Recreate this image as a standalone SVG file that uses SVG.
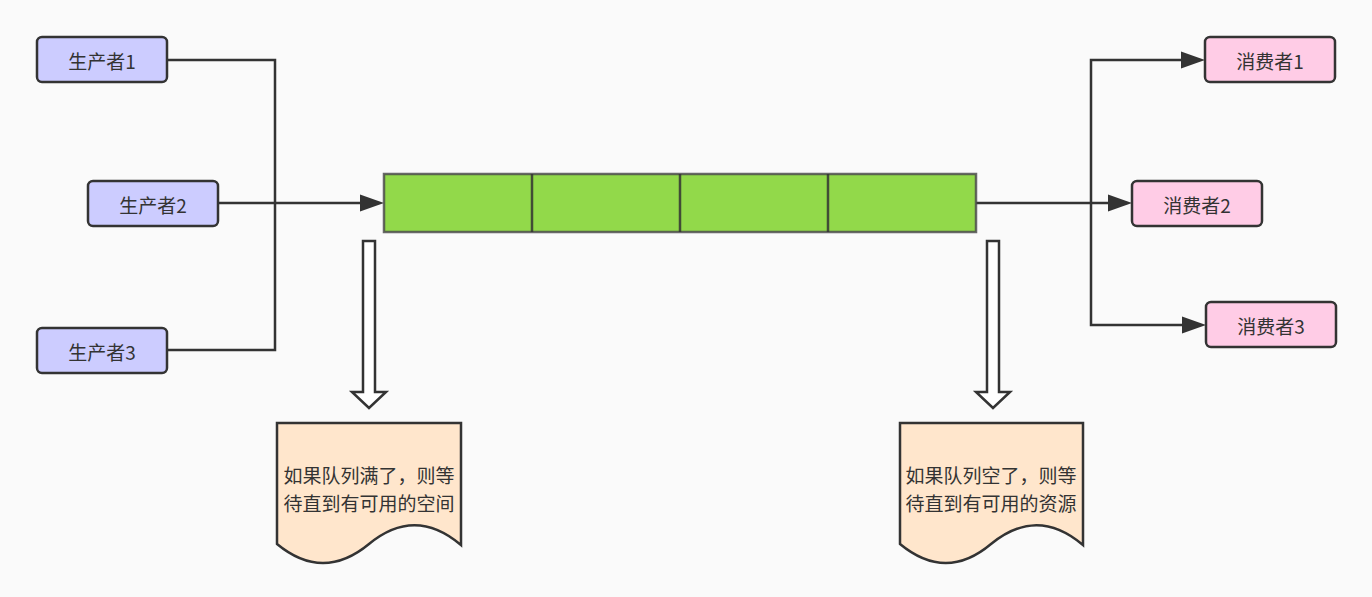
<svg xmlns="http://www.w3.org/2000/svg" width="1372" height="597" viewBox="0 0 1372 597">
<defs>
<style>
.node rect{stroke:#333333;stroke-width:2.5}
.prod rect{fill:#CCCCFF}
.cons rect{fill:#FFCCE6}
.lbl{font-family:"Noto Sans CJK SC","Liberation Sans",sans-serif;font-size:19px;fill:#333333;text-anchor:middle;dominant-baseline:central}
.doc .lbl{font-size:19px}
.doc path{fill:#FFE6CC;stroke:#333333;stroke-width:2.5}
.edge{fill:none;stroke:#333333;stroke-width:2.5}
.hollow{fill:#FFFFFF;stroke:#333333;stroke-width:2.5}
</style>
</defs>
<rect x="0" y="0" width="1372" height="597" fill="#FAFAFA"/>
<g id="connectors">
<path class="edge" d="M167,60 H275 V350 H167"/>
<path class="edge" d="M218,203 H360"/>
<path d="M360,194.5 L384,203 L360,211.5 Z" fill="#333333"/>
<path class="edge" d="M976,203 H1110"/>
<path d="M1108,194.5 L1132,203 L1108,211.5 Z" fill="#333333"/>
<path class="edge" d="M1091,203 V60 H1183"/>
<path d="M1181,51.5 L1205,60 L1181,68.5 Z" fill="#333333"/>
<path class="edge" d="M1091,203 V325 H1184"/>
<path d="M1182,316.5 L1206,325 L1182,333.5 Z" fill="#333333"/>
<path class="hollow" d="M363,241 H375 V392 H386 L369,408 L352,392 H363 Z"/>
<path class="hollow" d="M987,241 H999 V392 H1010 L993,408 L976,392 H987 Z"/>
</g>
<g id="queue">
<rect x="384" y="174" width="592" height="58" fill="#92D94A" stroke="#4D4D4D" stroke-opacity="0.85" stroke-width="2.5"/>
<line x1="532" y1="174" x2="532" y2="232" stroke="#333333" stroke-opacity="0.85" stroke-width="2.5"/>
<line x1="680" y1="174" x2="680" y2="232" stroke="#333333" stroke-opacity="0.85" stroke-width="2.5"/>
<line x1="828" y1="174" x2="828" y2="232" stroke="#333333" stroke-opacity="0.85" stroke-width="2.5"/>
</g>
<g id="producer1" class="node prod"><rect x="37" y="37" width="130" height="45" rx="5"/><text class="lbl" x="102" y="60">生产者1</text></g>
<g id="producer2" class="node prod"><rect x="88" y="181" width="130" height="45" rx="5"/><text class="lbl" x="153" y="204">生产者2</text></g>
<g id="producer3" class="node prod"><rect x="37" y="328" width="130" height="45" rx="5"/><text class="lbl" x="102" y="351">生产者3</text></g>
<g id="consumer1" class="node cons"><rect x="1205" y="37" width="130" height="45" rx="5"/><text class="lbl" x="1270" y="60">消费者1</text></g>
<g id="consumer2" class="node cons"><rect x="1132" y="181" width="130" height="45" rx="5"/><text class="lbl" x="1197" y="204">消费者2</text></g>
<g id="consumer3" class="node cons"><rect x="1206" y="302" width="130" height="45" rx="5"/><text class="lbl" x="1271" y="325">消费者3</text></g>
<g id="note-full" class="doc">
<path d="M277,423 H461 V545 Q415,506 369,544 Q323,582 277,544 Z"/>
<text class="lbl" x="369" y="474">如果队列满了，则等</text>
<text class="lbl" x="369" y="502">待直到有可用的空间</text>
</g>
<g id="note-empty" class="doc">
<path d="M900,423 H1083 V545 Q1037,506 991,544 Q946,582 900,544 Z"/>
<text class="lbl" x="991" y="474">如果队列空了，则等</text>
<text class="lbl" x="991" y="502">待直到有可用的资源</text>
</g>
</svg>
